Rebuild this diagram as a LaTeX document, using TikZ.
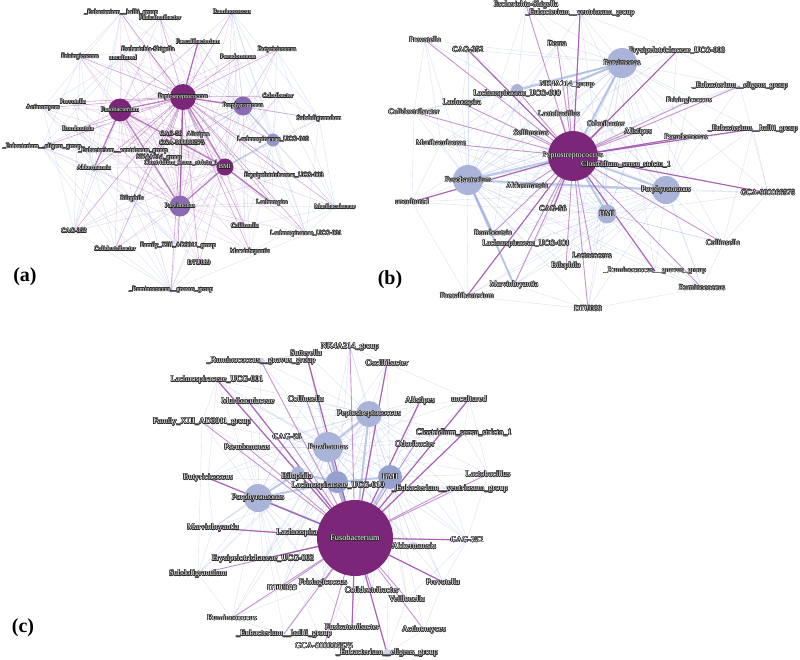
\documentclass[tikz,border=0pt]{standalone}
\usepackage{tikz}
\usepackage{fontspec}
\setmainfont{Liberation Serif}
\usepackage[copies]{contour}
\contourlength{0.45pt}
\contournumber{16}
\newcommand{\ct}[1]{\contour{black!85}{#1}}
\pgfdeclarelayer{edges}
\pgfsetlayers{edges,main}
\definecolor{hubD}{RGB}{124,38,122}
\definecolor{hubM}{RGB}{138,106,176}
\definecolor{hubL}{RGB}{150,146,204}
\definecolor{lav}{RGB}{170,180,216}
\definecolor{lavD}{RGB}{150,160,206}
\definecolor{edgeP}{RGB}{158,76,170}
\definecolor{edgeB}{RGB}{146,166,214}
\tikzset{
  la/.style={font=\fontsize{6.4}{7}\selectfont, inner sep=0pt, text=white},
  lb/.style={font=\fontsize{7.8}{8}\selectfont, inner sep=0pt, text=white},
  lc/.style={font=\fontsize{8.3}{9}\selectfont, inner sep=0pt, text=white},
  hub/.style={circle, inner sep=0pt, draw=none},
  pe/.style={draw=edgeP, line width=0.6pt, draw opacity=0.5},
  pew/.style={draw=edgeP, line width=0.4pt, draw opacity=0.28},
  pes/.style={draw=edgeP, line width=1.3pt, draw opacity=0.7},
  be/.style={draw=edgeB, line width=0.4pt, draw opacity=0.35},
  bem/.style={draw=edgeB, line width=0.8pt, draw opacity=0.5},
  bes/.style={draw=edgeB, line width=2pt, draw opacity=0.6},
  plabel/.style={font=\bfseries\fontsize{20}{22}\selectfont, inner sep=0pt}
}
\begin{document}
\begin{tikzpicture}[x=1pt,y=-1pt]
\useasboundingbox (0,0) rectangle (800,659);

% ================= panel (a) =================
\node[la] (aEha) at (121,13) {\ct{\_Eubacterium\_\_hallii\_group}};
\node[la] (aFsc) at (160,18) {\ct{Fusicatenibacter}};
\node[la] (aRum) at (232,12) {\ct{Ruminococcus}};
\node[la] (aFae) at (198,42) {\ct{Faecalibacterium}};
\node[la] (aEsc) at (148,50) {\ct{Escherichia-Shigella}};
\node[la] (aUnc) at (123,58) {\ct{uncultured}};
\node[la] (aFri) at (80,57) {\ct{Frisingicoccus}};
\node[la] (aPse) at (238,57) {\ct{Pseudomonas}};
\node[la] (aBut) at (277,50) {\ct{Butyricicoccus}};
\node[la] (aPre) at (73,102) {\ct{Prevotella}};
\node[la] (aAct) at (43,108) {\ct{Actinomyces}};
\node[la] (aOdo) at (278,96) {\ct{Odoribacter}};
\node[la] (aSub) at (319,119) {\ct{Subdoligranulum}};
\node[la] (aRom) at (78,129) {\ct{Romboutsia}};
\node[la] (aC56) at (171,134) {\ct{CAG-56}};
\node[la] (aAli) at (198,135) {\ct{Alistipes}};
\node[la] (aGCA) at (182,143) {\ct{GGA-900066575}};
\node[la] (aEel) at (42,147) {\ct{\_Eubacterium\_\_eligens\_group}};
\node[la] (aEve) at (123,151) {\ct{\_Eubacterium\_\_ventriosum\_group}};
\node[la] (aNK) at (159,158) {\ct{NK4A214\_group}};
\node[la] (aClo) at (181,163) {\ct{Clostridium\_sensu\_stricto\_1}};
\node[la] (aEry) at (284,176) {\ct{Erysipelotrichaceae\_UCG-003}};
\node[la] (aLac) at (272,203) {\ct{Lachnospira}};
\node[la] (aMur) at (335,207) {\ct{Muribaculaceae}};
\node[la] (aCol) at (245,226) {\ct{Collinsella}};
\node[la] (aC352) at (74,231) {\ct{CAG-352}};
\node[la] (aL01) at (306,234) {\ct{Lachnospiraceae\_UCG-001}};
\node[la] (aCdx) at (115,249) {\ct{Colidextribacter}};
\node[la] (aFam) at (178,246) {\ct{Family\_XIII\_AD3011\_group}};
\node[la] (aMar) at (250,252) {\ct{Marvinbryantia}};
\node[la] (aDTU) at (199,263) {\ct{DTU089}};
\node[la] (aRgn) at (171,290) {\ct{\_Ruminococcus\_\_gnavus\_group}};
\node[hub, fill=lav, minimum size=7, label={[la]center:\ct{Akkermansia}}] (aAkk) at (94,168) {};
\node[hub, fill=lav, minimum size=7, label={[la]center:\ct{Bilophila}}] (aBil) at (132,199) {};
\node[hub, fill=hubL, minimum size=13, label={[la]center:\ct{Lachnospiraceae\_UCG-010}}] (aL10) at (273,140) {};
\node[hub, fill=hubD, minimum size=26, label={[la]center:\ct{Peptostreptococcus}}] (aPep) at (183,97) {};
\node[hub, fill=hubD, minimum size=23, label={[la]center:\ct{Fusobacterium}}] (aFus) at (120,110) {};
\node[hub, fill=hubM, minimum size=19, label={[la]center:\ct{Porphyromonas}}] (aPor) at (243,106) {};
\node[hub, fill=hubD, minimum size=17, label={[la]center:\ct{BMI}}] (aBMI) at (225,167) {};
\node[hub, fill=hubM, minimum size=21, label={[la]center:\ct{Parvimonas}}] (aPar) at (180,206) {};
\node[plabel] (la) at (25,277) {(a)};

\begin{pgfonlayer}{edges}
\foreach \t in {aEha,aFsc,aRum,aFae,aEsc,aUnc,aFri,aPse,aBut,aPre,aAct,aOdo,aSub,aRom,aC56,aAli,aGCA,aEel,aEve,aNK,aClo,aEry,aLac,aMur,aCol,aC352,aL01,aCdx,aFam,aMar,aDTU,aRgn,aAkk,aBil,aL10}
  \draw[pe] (aPep.center) -- (\t.center);
\foreach \t in {aEha,aFsc,aRum,aFae,aEsc,aUnc,aFri,aPse,aBut,aPre,aAct,aOdo,aRom,aC56,aAli,aGCA,aEel,aEve,aNK,aClo,aEry,aLac,aCol,aC352,aL01,aCdx,aFam,aMar,aDTU,aRgn,aAkk,aBil}
  \draw[pew] (aFus.center) -- (\t.center);
\foreach \t in {aEha,aFsc,aRum,aFae,aEsc,aUnc,aFri,aPse,aBut,aPre,aAct,aOdo,aSub,aRom,aC56,aAli,aGCA,aEel,aEve,aNK,aClo,aEry,aLac,aMur,aCol,aC352,aL01,aCdx,aFam,aMar,aDTU,aRgn,aAkk,aBil}
  \draw[pew] (aBMI.center) -- (\t.center);
\foreach \t in {aEha,aFsc,aRum,aFae,aEsc,aUnc,aFri,aPse,aBut,aPre,aAct,aOdo,aRom,aC56,aAli,aGCA,aEel,aEve,aNK,aClo,aEry,aLac,aMur,aCol,aC352,aL01,aCdx,aFam,aMar,aDTU,aRgn,aAkk}
  \draw[pew] (aPar.center) -- (\t.center);
\foreach \t in {aEha,aFsc,aRum,aFae,aEsc,aUnc,aFri,aPse,aBut,aOdo,aSub,aRom,aC56,aAli,aGCA,aEve,aNK,aClo,aEry,aLac,aMur,aCol,aL01,aFam,aMar,aDTU,aRgn,aBil}
  \draw[be] (aPor.center) -- (\t.center);
\foreach \t in {aRum,aBut,aOdo,aSub,aEry,aLac,aMur,aCol,aL01,aMar,aPse,aFae}
  \draw[be] (aL10.center) -- (\t.center);
\foreach \t in {aEha,aFri,aAct,aEel,aC352,aCdx,aRgn,aPre,aRom,aEve,aNK,aFam}
  \draw[be] (aAkk.center) -- (\t.center);
\foreach \t in {aC352,aCdx,aRgn,aEel,aFam,aDTU,aMar,aAct,aRom,aNK}
  \draw[be] (aBil.center) -- (\t.center);
\foreach \u/\v in {aEha/aFri,aEha/aAct,aEha/aC352,aFsc/aPre,aFsc/aEel,aRum/aSub,aRum/aMur,aRum/aL01,aRum/aCol,aBut/aSub,aBut/aMur,aFri/aC352,aAct/aC352,aEel/aRgn,aEel/aCdx,aC352/aRgn,aCdx/aRgn,aRgn/aL01,aRgn/aDTU,aMur/aL01,aSub/aL01,aSub/aMur,aOdo/aSub,aMar/aMur,aCol/aMur,aFri/aEel,aUnc/aAct,aEsc/aFri}
  \draw[be] (\u.center) -- (\v.center);
\foreach \u/\v in {aPep/aFus,aPep/aBMI,aPep/aPar,aFus/aAkk,aBMI/aLac,aBMI/aPar,aFus/aBMI,aPep/aFae,aFus/aPar,aPep/aPor}
  \draw[pes] (\u.center) -- (\v.center);
\draw[bes, line width=1.2pt] (aPor.center) -- (aL10.center);
\draw[bes, line width=1.2pt] (aBMI.center) -- (aL10.center);
\end{pgfonlayer}

% ================= panel (b) =================
\node[lb] (bEsc) at (526,5) {\ct{Escherichia-Shigella}};
\node[lb] (bEve) at (580,13) {\ct{\_Eubacterium\_\_ventriosum\_group}};
\node[lb] (bPre) at (425,40) {\ct{Prevotella}};
\node[lb] (bC352) at (468,50) {\ct{CAG-352}};
\node[lb] (bDor) at (557,44) {\ct{Dorea}};
\node[lb] (bEry) at (677,51) {\ct{Erysipelotrichaceae\_UCG-003}};
\node[lb] (bNK) at (567,85) {\ct{NK4A214\_group}};
\node[lb] (bEel) at (740,86) {\ct{\_Eubacterium\_\_eligens\_group}};
\node[lb] (bLac) at (462,103) {\ct{Lachnospira}};
\node[lb] (bCdx) at (414,112) {\ct{Colidextribacter}};
\node[lb] (bFri) at (689,101) {\ct{Frisingicoccus}};
\node[lb] (bLcb) at (559,114) {\ct{Lactobacillus}};
\node[lb] (bOdo) at (606,124) {\ct{Odoribacter}};
\node[lb] (bAli) at (638,132) {\ct{Alistipes}};
\node[lb] (bSel) at (531,133) {\ct{Sellimonas}};
\node[lb] (bEha) at (753,129) {\ct{\_Eubacterium\_\_hallii\_group}};
\node[lb] (bPse) at (686,137) {\ct{Pseudomonas}};
\node[lb] (bMur) at (441,143) {\ct{Muribaculaceae}};
\node[lb] (bAkk) at (527,186) {\ct{Akkermansia}};
\node[lb] (bGCA) at (768,193) {\ct{GCA-900066575}};
\node[lb] (bUnc) at (412,202) {\ct{uncultured}};
\node[lb] (bC56) at (553,209) {\ct{CAG-56}};
\node[lb] (bRom) at (493,233) {\ct{Romboutsia}};
\node[lb] (bL01) at (526,244) {\ct{Lachnospiraceae\_UCG-001}};
\node[lb] (bCol) at (723,243) {\ct{Collinsella}};
\node[lb] (bLcc) at (592,256) {\ct{Lactococcus}};
\node[lb] (bBil) at (566,266) {\ct{Bilophila}};
\node[lb] (bRgn) at (655,271) {\ct{\_Ruminococcus\_\_gnavus\_group}};
\node[lb] (bMar) at (514,285) {\ct{Marvinbryantia}};
\node[lb] (bRum) at (702,288) {\ct{Ruminococcus}};
\node[lb] (bFae) at (467,296) {\ct{Faecalibacterium}};
\node[lb] (bDTU) at (588,309) {\ct{DTU089}};
\node[hub, fill=lav, minimum size=12] (bL10) at (517,90) {};
\node[lb] (bL10t) at (517,94) {\ct{Lachnospiraceae\_UCG-010}};
\node[hub, fill=hubD, minimum size=50, label={[lb]center:\ct{Peptostreptococcus}}] (bPep) at (573,156) {};
\node[lb] (bClo) at (626,165) {\ct{Clostridium\_sensu\_stricto\_1}};
\node[hub, fill=lav, minimum size=30, label={[lb]center:\ct{Fusobacterium}}] (bFus) at (468,180) {};
\node[hub, fill=lav, minimum size=30, label={[lb]center:\ct{Parvimonas}}] (bPar) at (622,63) {};
\node[hub, fill=lav, minimum size=28, label={[lb]center:\ct{Porphyromonas}}] (bPor) at (666,190) {};
\node[hub, fill=lav, minimum size=19, label={[lb]center:\ct{BMI}}] (bBMI) at (607,214) {};
\node[plabel] (lb) at (390,280) {(b)};

\begin{pgfonlayer}{edges}
\foreach \t in {bEsc,bEve,bPre,bC352,bDor,bEry,bNK,bEel,bLac,bCdx,bFri,bLcb,bOdo,bAli,bSel,bEha,bPse,bMur,bClo,bAkk,bGCA,bUnc,bC56,bRom,bL01,bCol,bLcc,bBil,bRgn,bMar,bRum,bFae,bDTU,bL10}
  \draw[pe, line width=0.9pt, draw opacity=0.6] (bPep.center) -- (\t.center);
\foreach \t in {bEsc,bEve,bPre,bC352,bDor,bEry,bNK,bEel,bLac,bCdx,bFri,bLcb,bOdo,bAli,bSel,bEha,bPse,bMur,bClo,bAkk,bGCA,bUnc,bC56,bRom,bL01,bCol,bLcc,bBil,bRgn,bMar,bRum,bFae,bDTU,bL10}
  \draw[be] (bFus.center) -- (\t.center);
\foreach \t in {bEsc,bEve,bPre,bC352,bDor,bEry,bNK,bEel,bLac,bCdx,bFri,bLcb,bOdo,bAli,bSel,bEha,bPse,bMur,bClo,bAkk,bGCA,bUnc,bC56,bRom,bL01,bCol,bLcc,bBil,bRgn,bMar,bRum,bDTU}
  \draw[be] (bPar.center) -- (\t.center);
\foreach \t in {bEve,bDor,bEry,bNK,bEel,bFri,bLcb,bOdo,bAli,bSel,bEha,bPse,bClo,bAkk,bGCA,bC56,bRom,bL01,bCol,bLcc,bBil,bRgn,bMar,bRum,bFae,bDTU,bUnc,bMur}
  \draw[be] (bPor.center) -- (\t.center);
\foreach \t in {bEve,bDor,bNK,bLac,bCdx,bLcb,bOdo,bAli,bSel,bMur,bClo,bAkk,bGCA,bUnc,bC56,bRom,bL01,bCol,bLcc,bBil,bRgn,bMar,bRum,bFae,bDTU}
  \draw[be] (bBMI.center) -- (\t.center);
\foreach \t in {bEsc,bPre,bC352,bLac,bCdx,bMur,bSel,bAkk,bRom,bDor}
  \draw[be] (bL10.center) -- (\t.center);
\foreach \u/\v in {bPre/bMur,bPre/bCdx,bC352/bLac,bEsc/bDor,bEve/bEry,bEry/bEel,bEel/bGCA,bEha/bGCA,bGCA/bCol,bCol/bRum,bRum/bDTU,bDTU/bFae,bFae/bUnc,bUnc/bMur,bDTU/bMar,bFae/bMar,bRgn/bRum,bUnc/bCdx,bEel/bFri,bEha/bCol}
  \draw[be] (\u.center) -- (\v.center);
\foreach \u/\v in {bPep/bFus,bPep/bPar,bPep/bPor,bPep/bBMI,bFus/bPor,bFus/bRom,bPar/bL10,bFus/bMar,bPar/bNK}
  \draw[bes] (\u.center) -- (\v.center);
\foreach \u/\v in {bPep/bEve,bPep/bEry,bPep/bC352,bPep/bEha,bPep/bPse,bPep/bC56,bPep/bFae,bPep/bRgn,bPep/bUnc,bPep/bGCA}
  \draw[pes, line width=1.1pt] (\u.center) -- (\v.center);
\end{pgfonlayer}

% ================= panel (c) =================
\node[lc] (cNK) at (350,347) {\ct{NK4A214\_group}};
\node[lc] (cSut) at (306,353) {\ct{Sutterella}};
\node[lc] (cOsc) at (387,363) {\ct{Oscillibacter}};
\node[lc] (cL01) at (217,380) {\ct{Lachnospiraceae\_UCG-001}};
\node[lc] (cMur) at (248,401) {\ct{Muribaculaceae}};
\node[lc] (cCol) at (306,399) {\ct{Collinsella}};
\node[lc] (cAli) at (420,401) {\ct{Alistipes}};
\node[lc] (cUnc) at (469,399) {\ct{uncultured}};
\node[lc] (cFam) at (202,422) {\ct{Family\_XIII\_AD3011\_group}};
\node[lc] (cC56) at (287,437) {\ct{CAG-56}};
\node[lc] (cClo) at (464,433) {\ct{Clostridium\_sensu\_stricto\_1}};
\node[lc] (cPse) at (247,447) {\ct{Pseudomonas}};
\node[lc] (cOdo) at (415,444) {\ct{Odoribacter}};
\node[lc] (cLcb) at (488,474) {\ct{Lactobacillus}};
\node[lc] (cBut) at (208,478) {\ct{Butyricicoccus}};
\node[lc] (cMar) at (213,528) {\ct{Marvinbryantia}};
\node[lc] (cC352) at (467,540) {\ct{CAG-352}};
\node[lc] (cSub) at (198,574) {\ct{Subdoligranulum}};
\node[lc] (cPre) at (443,582) {\ct{Prevotella}};
\node[lc] (cVei) at (407,599) {\ct{Veillonella}};
\node[lc] (cRum) at (232,618) {\ct{Ruminococcus}};
\node[lc] (cFsc) at (352,627) {\ct{Fusicatenibacter}};
\node[lc] (cAct) at (424,630) {\ct{Actinomyces}};
\node[lc] (cEha) at (284,634) {\ct{\_Eubacterium\_\_hallii\_group}};
\node[lc] (cGCA) at (324,646) {\ct{GCA-900066575}};
\node[hub, fill=lav!60, minimum size=7, label={[lc]center:\ct{\_Ruminococcus\_\_gnavus\_group}}] (cRgn) at (261,361) {};
\node[hub, fill=lav, minimum size=26, label={[lc]center:\ct{Peptostreptococcus}}] (cPep) at (369,414) {};
\node[hub, fill=lav, minimum size=30, label={[lc]center:\ct{Parvimonas}}] (cPar) at (328,447) {};
\node[hub, fill=lav, minimum size=13] (cBil) at (298,473) {};
\node[hub, fill=lavD, minimum size=22] (cL10) at (337,482) {};
\node[hub, fill=lavD, minimum size=24, label={[lc]center:\ct{BMI}}] (cBMI) at (390,477) {};
\node[lc] (cBilt) at (297,477) {\ct{Bilophila}};
\node[lc] (cL10t) at (338,486) {\ct{Lachnospiraceae\_UCG-010}};
\node[hub, fill=lav!60, minimum size=8, label={[lc]center:\ct{\_Eubacterium\_\_ventriosum\_group}}] (cEve) at (450,489) {};
\node[hub, fill=lav, minimum size=28, label={[lc]center:\ct{Porphyromonas}}] (cPor) at (258,498) {};
\node[hub, fill=hubD, minimum size=76, label={[lc]center:\ct{Fusobacterium}}] (cFus) at (355,538) {};
\node[lc] (cLac) at (297,533) {\ct{Lachnospira}};
\node[hub, fill=lav!60, minimum size=8, label={[lc]center:\ct{Akkermansia}}] (cAkk) at (414,546) {};
\node[lc] (cEry) at (263,559) {\ct{Erysipelotrichaceae\_UCG-003}};
\node[lc] (cFri) at (323,583) {\ct{Frisingicoccus}};
\node[lc] (cDTU) at (282,588) {\ct{DTU089}};
\node[lc] (cCdx) at (372,590) {\ct{Colidextribacter}};
\node[hub, fill=lav!60, minimum size=8, label={[lc]center:\ct{\_Eubacterium\_\_eligens\_group}}] (cEel) at (387,653) {};
\node[plabel] (lc) at (23,628) {(c)};

\begin{pgfonlayer}{edges}
\foreach \t in {cNK,cSut,cOsc,cL01,cMur,cCol,cAli,cUnc,cFam,cC56,cClo,cPse,cOdo,cLcb,cBut,cMar,cLac,cC352,cEry,cSub,cPre,cFri,cDTU,cCdx,cVei,cRum,cFsc,cAct,cEha,cGCA,cRgn,cEve,cAkk,cEel}
  \draw[pe, line width=0.9pt, draw opacity=0.6] (cFus.center) -- (\t.center);
\foreach \t in {cNK,cSut,cOsc,cL01,cMur,cCol,cAli,cUnc,cFam,cC56,cClo,cPse,cOdo,cLcb,cBut,cMar,cLac,cC352,cEry,cSub,cPre,cFri,cDTU,cCdx,cVei,cRum,cRgn,cEve,cAkk}
  \draw[be] (cPep.center) -- (\t.center);
\foreach \t in {cNK,cSut,cOsc,cL01,cMur,cCol,cAli,cUnc,cFam,cC56,cClo,cPse,cOdo,cLcb,cBut,cMar,cLac,cC352,cEry,cSub,cPre,cFri,cDTU,cCdx,cRum,cRgn,cEve,cAkk}
  \draw[be] (cPar.center) -- (\t.center);
\foreach \t in {cNK,cOsc,cAli,cUnc,cC56,cClo,cOdo,cLcb,cC352,cPre,cFri,cCdx,cVei,cFsc,cAct,cEha,cGCA,cEve,cAkk,cEel,cCol,cMur}
  \draw[be] (cBMI.center) -- (\t.center);
\foreach \t in {cL01,cMur,cFam,cC56,cPse,cBut,cMar,cLac,cEry,cSub,cFri,cDTU,cRum,cEha,cGCA,cFsc,cRgn,cCol}
  \draw[be] (cPor.center) -- (\t.center);
\foreach \t in {cNK,cSut,cCol,cC56,cPse,cBut,cMar,cLac,cEry,cDTU,cFri,cCdx,cEve,cAkk,cOdo,cAli}
  \draw[be] (cL10.center) -- (\t.center);
\foreach \u/\v in {cL01/cFam,cL01/cMur,cRgn/cSut,cRgn/cNK,cNK/cOsc,cOsc/cUnc,cUnc/cClo,cClo/cLcb,cLcb/cC352,cC352/cPre,cPre/cAct,cAct/cEel,cEel/cGCA,cGCA/cEha,cEha/cRum,cRum/cSub,cSub/cEry,cSub/cMar,cMar/cBut,cBut/cPse,cFam/cPse,cRum/cDTU,cRum/cFri,cL01/cBut,cFam/cSub,cUnc/cLcb,cC352/cVei,cEel/cVei,cEve/cC352}
  \draw[be] (\u.center) -- (\v.center);
\foreach \u/\v in {cFus/cPor,cFus/cL10,cFus/cBMI,cFus/cPar,cFus/cPep,cPar/cPep,cL10/cBMI,cPor/cBil,cPor/cL10,cBil/cL10,cPar/cL10}
  \draw[bes] (\u.center) -- (\v.center);
\foreach \u/\v in {cFus/cL01,cFus/cMur,cFus/cUnc,cFus/cAli,cFus/cOsc,cFus/cSut,cFus/cClo,cFus/cPre,cFus/cC352,cFus/cEry,cFus/cBut,cFus/cEel,cFus/cFsc,cFus/cMar}
  \draw[pes, line width=1.2pt] (\u.center) -- (\v.center);
\end{pgfonlayer}
\end{tikzpicture}
\end{document}
